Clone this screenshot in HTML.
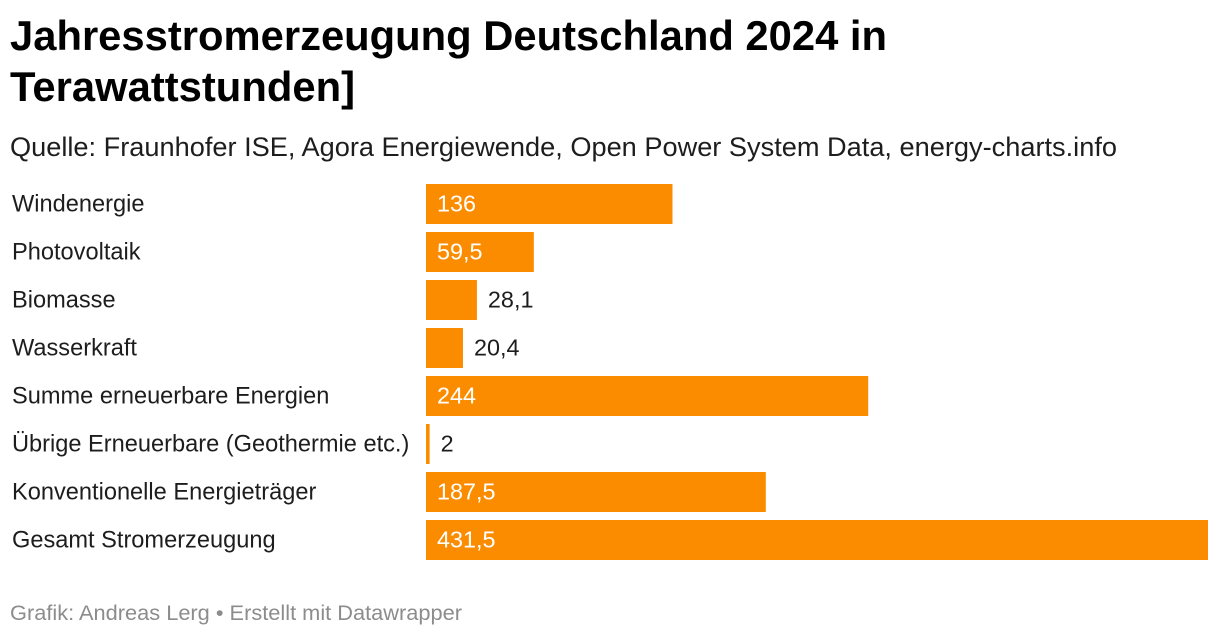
<!DOCTYPE html>
<html lang="de">
<head>
<meta charset="utf-8">
<title>Jahresstromerzeugung Deutschland 2024</title>
<style>
html,body{margin:0;padding:0;background:#fff;width:1220px;height:636px;overflow:hidden}
svg{display:block;font-family:"Liberation Sans",sans-serif}
.title{font-size:41.5px;font-weight:700;fill:#000}
.sub{font-size:27px;fill:#1d1d1d}
.cat{font-size:23.6px;fill:#1d1d1d}
.val{font-size:23.4px}
.foot{font-size:21px;fill:#8c8c8c}
</style>
</head>
<body>
<svg id="chart" width="1220" height="636" viewBox="0 0 1220 636">
<text class="title" x="10" y="50" textLength="877" lengthAdjust="spacingAndGlyphs">Jahresstromerzeugung Deutschland 2024 in</text>
<text class="title" x="10" y="101" textLength="345" lengthAdjust="spacingAndGlyphs">Terawattstunden]</text>
<text class="sub" x="10" y="156" textLength="1107" lengthAdjust="spacingAndGlyphs">Quelle: Fraunhofer ISE, Agora Energiewende, Open Power System Data, energy-charts.info</text>
<g id="rows"></g>
<text class="foot" x="10" y="620" textLength="452" lengthAdjust="spacingAndGlyphs">Grafik: Andreas Lerg • Erstellt mit Datawrapper</text>
</svg>
<script>
const categories = ["Windenergie","Photovoltaik","Biomasse","Wasserkraft","Summe erneuerbare Energien","Übrige Erneuerbare (Geothermie etc.)","Konventionelle Energieträger","Gesamt Stromerzeugung"];
const values = [136,59.5,28.1,20.4,244,2,187.5,431.5];
const valueLabels = ["136","59,5","28,1","20,4","244","2","187,5","431,5"];

const NS = "http://www.w3.org/2000/svg";
const rows = document.getElementById("rows");
const X0 = 426, X1 = 1208, ROW_TOP = 184, ROW_STEP = 48, BAR_H = 40;
const maxDomain = 431.5;
const xScale = v => (X1 - X0) * v / maxDomain;
const yScale = i => ROW_TOP + i * ROW_STEP;

function addText(cls, x, y, str, fill) {
  const t = document.createElementNS(NS, "text");
  t.setAttribute("class", cls);
  t.setAttribute("x", x);
  t.setAttribute("y", y);
  if (fill) t.setAttribute("fill", fill);
  t.textContent = str;
  rows.appendChild(t);
  return t;
}

categories.forEach((name, i) => {
  const w = xScale(values[i]);
  const y = yScale(i);
  const label = addText("cat", 12, y + 27.5, name);
  
  

  const bar = document.createElementNS(NS, "rect");
  bar.setAttribute("x", X0);
  bar.setAttribute("y", y);
  bar.setAttribute("width", w);
  bar.setAttribute("height", BAR_H);
  bar.setAttribute("fill", "#fb8c00");
  
  
  rows.appendChild(bar);

  const inside = w > 60;
  const vx = inside ? X0 + 11 : X0 + w + 11;
  const val = addText("val", vx, y + 27.5, valueLabels[i], inside ? "#ffffff" : "#1d1d1d");
  
  
});
</script>
</body>
</html>
